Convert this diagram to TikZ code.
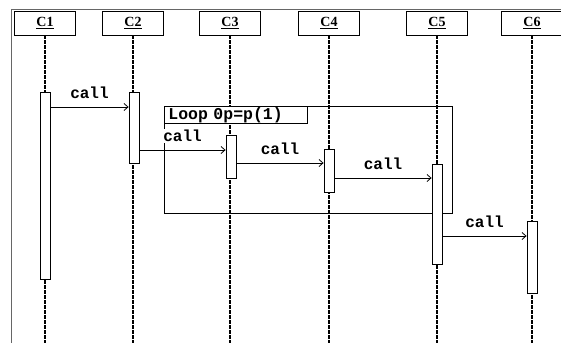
\documentclass[tikz,border=0pt]{standalone}
\usepackage{fontspec}
\setmainfont{Liberation Serif}
\setmonofont{Liberation Mono}
\usetikzlibrary{arrows.meta,calc}

\tikzset{
  obj/.style={draw, fill=white, line width=0.8pt, minimum width=61pt, minimum height=24pt,
    inner sep=0pt, font=\bfseries\fontsize{14}{14}\selectfont},
  lifeline/.style={line width=2pt, dash pattern=on 3.5pt off 1.5pt},
  act/.style={draw, fill=white, line width=0.8pt, minimum width=10pt, inner sep=0pt, anchor=north},
  msg/.style={-{Straight Barb[length=4pt,width=7pt]}, line width=0.8pt},
  lbl/.style={font=\ttfamily\bfseries\fontsize{16}{16}\selectfont, fill=white, inner sep=1pt,
    midway, above=7pt},
  looptag/.style={draw, fill=white, line width=0.8pt, anchor=north west, text width=135pt,
    align=left, inner xsep=4pt, inner ysep=0pt, minimum height=17pt,
    font=\ttfamily\bfseries\fontsize{16.5}{16.5}\selectfont},
  frame/.style={draw=black!60, line width=0.7pt}
}

\begin{document}
\begin{tikzpicture}[x=1pt, y=-1pt]
  \useasboundingbox (0,0) rectangle (561,343);
  \draw[frame] (561,9) -- (11,9) -- (11,343);
  \coordinate (bot) at (0,343);

  % objects
  \node[obj] (c1) at (45,23) {\underline{C1}};
  \node[obj] (c2) at (133,23) {\underline{C2}};
  \node[obj] (c3) at (230,23) {\underline{C3}};
  \node[obj] (c4) at (329,23) {\underline{C4}};
  \node[obj] (c5) at (437,23) {\underline{C5}};
  \node[obj] (c6) at (532,23) {\underline{C6}};

  % lifelines
  \foreach \c in {c1,c2,c3,c4,c5,c6}
    \draw[lifeline] (\c.south) -- (\c.south |- bot);

  % loop fragment
  \node[draw, line width=0.8pt, minimum width=288pt, minimum height=107pt, inner sep=0pt,
    anchor=north west] (loop) at (164,106) {};
  \node[looptag] (looplbl) at (loop.north west) {Loop 0p=p(1)};

  % activations
  \node[act, minimum height=187pt] (a1) at (45,92) {};
  \node[act, minimum height=71pt] (a2) at (134,92) {};
  \node[act, minimum height=43pt] (a3) at (231,135) {};
  \node[act, minimum height=43pt] (a4) at (329,149) {};
  \node[act, minimum height=100pt] (a5) at (437,164) {};
  \node[act, minimum height=72pt] (a6) at (532,221) {};

  % messages
  \coordinate (m1) at (0,107);
  \coordinate (m2) at (0,150);
  \coordinate (m3) at (0,163);
  \coordinate (m4) at (0,178);
  \coordinate (m5) at (0,236);
  \draw[msg] (a1.east |- m1) -- (a2.west |- m1) node[lbl] {call};
  \draw[msg] (a2.east |- m2) -- (a3.west |- m2) node[lbl] {call};
  \draw[msg] (a3.east |- m3) -- (a4.west |- m3) node[lbl] {call};
  \draw[msg] (a4.east |- m4) -- (a5.west |- m4) node[lbl] {call};
  \draw[msg] (a5.east |- m5) -- (a6.west |- m5) node[lbl] {call};
\end{tikzpicture}
\end{document}
